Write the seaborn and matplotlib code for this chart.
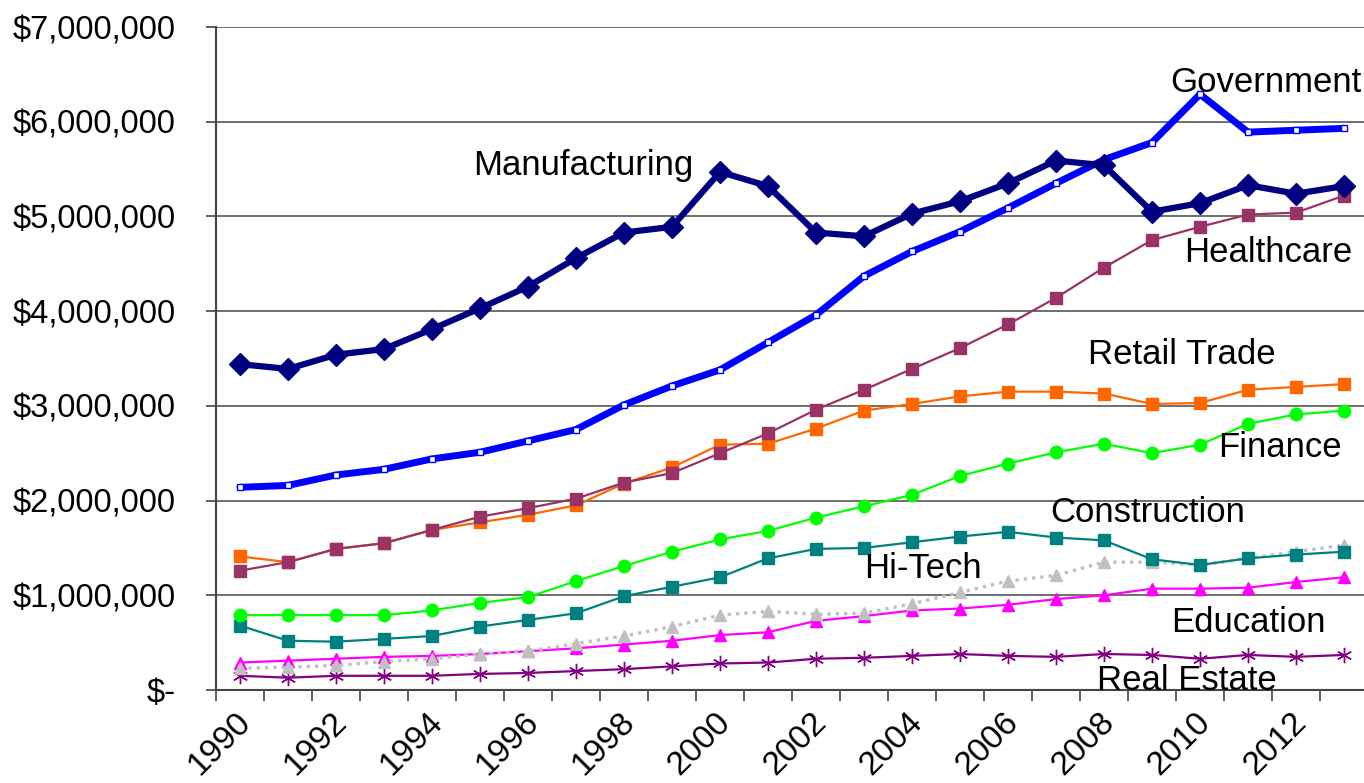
import numpy as np
import pandas as pd
import matplotlib
matplotlib.use("Agg")
import matplotlib.pyplot as plt
import seaborn as sns
from matplotlib.ticker import FuncFormatter
from matplotlib.transforms import ScaledTranslation

# Data (values in $ millions)
years = list(range(1990, 2014))

manufacturing = [3.44, 3.39, 3.54, 3.60, 3.81, 4.03, 4.26, 4.56, 4.83, 4.89, 5.47, 5.32,
                 4.83, 4.79, 5.03, 5.16, 5.35, 5.59, 5.54, 5.05, 5.14, 5.33, 5.24, 5.32]
government = [2.14, 2.16, 2.27, 2.33, 2.44, 2.51, 2.63, 2.75, 3.01, 3.21, 3.38, 3.67,
              3.96, 4.37, 4.63, 4.84, 5.09, 5.35, 5.60, 5.78, 6.29, 5.89, 5.91, 5.93]
healthcare = [1.26, 1.35, 1.49, 1.55, 1.69, 1.83, 1.92, 2.02, 2.19, 2.29, 2.50, 2.71,
              2.96, 3.17, 3.39, 3.61, 3.86, 4.14, 4.46, 4.75, 4.89, 5.02, 5.04, 5.22]
retail = [1.41, 1.35, 1.49, 1.55, 1.69, 1.77, 1.85, 1.95, 2.18, 2.35, 2.59, 2.60,
          2.76, 2.95, 3.02, 3.10, 3.15, 3.15, 3.13, 3.02, 3.03, 3.17, 3.20, 3.23]
finance = [0.79, 0.79, 0.79, 0.79, 0.84, 0.92, 0.98, 1.15, 1.31, 1.46, 1.59, 1.68,
           1.82, 1.94, 2.06, 2.26, 2.39, 2.51, 2.60, 2.50, 2.59, 2.81, 2.91, 2.95]
construction = [0.68, 0.52, 0.51, 0.54, 0.57, 0.67, 0.74, 0.81, 0.99, 1.09, 1.19, 1.39,
                1.49, 1.50, 1.56, 1.62, 1.67, 1.61, 1.58, 1.38, 1.32, 1.39, 1.43, 1.46]
hitech = [0.23, 0.24, 0.26, 0.30, 0.33, 0.38, 0.41, 0.49, 0.57, 0.67, 0.79, 0.83,
          0.80, 0.81, 0.91, 1.03, 1.15, 1.21, 1.35, 1.35, 1.32, 1.39, 1.46, 1.53]
education = [0.29, 0.31, 0.33, 0.35, 0.36, 0.38, 0.41, 0.44, 0.48, 0.52, 0.58, 0.61,
             0.73, 0.78, 0.84, 0.86, 0.90, 0.96, 1.00, 1.07, 1.07, 1.08, 1.14, 1.19]
real_estate = [0.15, 0.13, 0.15, 0.15, 0.15, 0.17, 0.18, 0.20, 0.22, 0.25, 0.28, 0.29,
               0.33, 0.34, 0.36, 0.38, 0.36, 0.35, 0.38, 0.37, 0.33, 0.37, 0.35, 0.37]

series = {
    "Real Estate": real_estate,
    "Education": education,
    "Hi-Tech": hitech,
    "Construction": construction,
    "Finance": finance,
    "Retail Trade": retail,
    "Healthcare": healthcare,
    "Government": government,
    "Manufacturing": manufacturing,
}

# color, marker, markersize, linewidth, linestyle, marker face
styles = {
    "Real Estate": ("#800080", (6, 2, 0), 11, 1.6, "-", "#800080"),
    "Education": ("#FF00FF", "^", 9, 1.6, "-", "#FF00FF"),
    "Hi-Tech": ("#C0C0C0", "^", 9, 2.4, (0, (1, 1.5)), "#C0C0C0"),
    "Construction": ("#008080", "s", 8, 1.6, "-", "#008080"),
    "Finance": ("#00FF00", "o", 9, 1.6, "-", "#00FF00"),
    "Retail Trade": ("#FF6600", "s", 8, 1.6, "-", "#FF6600"),
    "Healthcare": ("#993366", "s", 8, 1.6, "-", "#993366"),
    "Government": ("#0000FF", "s", 4, 5.0, "-", "white"),
    "Manufacturing": ("#000080", "D", 11, 4.5, "-", "#000080"),
}

# label centres in pixels
labels = {
    "Manufacturing": (583, 165),
    "Government": (1266, 82),
    "Healthcare": (1268, 252),
    "Retail Trade": (1182, 355),
    "Finance": (1280, 447),
    "Construction": (1148, 513),
    "Hi-Tech": (923, 568),
    "Education": (1248, 623),
    "Real Estate": (1187, 680),
}

sns.set_theme(style="white")
plt.rcParams["font.family"] = ["Liberation Sans", "DejaVu Sans"]

W, H = 1364, 783
fig = plt.figure(figsize=(W / 100, H / 100), dpi=100)
ax = fig.add_axes([216 / W, 1 - 690 / H, (1368 - 216) / W, (690 - 27) / H])

x = np.arange(len(years))
for name, vals in series.items():
    c, m, ms, lw, ls, fc = styles[name]
    df = pd.DataFrame({"x": x, "y": np.array(vals) * 1e6})
    sns.lineplot(data=df, x="x", y="y", ax=ax, color=c, linewidth=lw, linestyle=ls,
                 marker=m, markersize=ms, markerfacecolor=fc, markeredgecolor=c,
                 markeredgewidth=1.0, zorder=3)

ax.set_xlim(-0.5, len(years) - 0.5)
ax.set_ylim(0, 7e6)
ax.set_yticks(np.arange(0, 7.01e6, 1e6))
ax.yaxis.set_major_formatter(FuncFormatter(lambda v, p: "$-" if v == 0 else f"${v:,.0f}"))
ax.grid(axis="y", color="#555555", linewidth=1.2)
ax.set_axisbelow(True)

ax.set_xticks(x[::2])
ax.set_xticklabels([str(y) for y in years[::2]], rotation=45, ha="right",
                   rotation_mode="anchor")
ax.set_xticks(np.arange(-0.5, len(years), 1), minor=True)
ax.tick_params(axis="x", which="major", length=0, pad=12, labelsize=24,
               labelcolor="black")
ax.tick_params(axis="x", which="minor", length=8, width=1.2, color="#444444",
               direction="out", bottom=True)
ax.tick_params(axis="y", length=7, width=1.2, color="#444444", direction="out",
               left=True, labelsize=23.5, labelcolor="black", pad=22)
shift = ScaledTranslation(-5 / 100, 0, fig.dpi_scale_trans)
for lab in ax.get_xticklabels():
    lab.set_transform(lab.get_transform() + shift)
ax.set_xlabel("")
ax.set_ylabel("")

for side in ["top", "right"]:
    ax.spines[side].set_visible(False)
for side in ["left", "bottom"]:
    ax.spines[side].set_color("#444444")
    ax.spines[side].set_linewidth(1.5)

for name, (px, py) in labels.items():
    fig.text(px / W, 1 - py / H, name, fontsize=25, ha="center", va="center",
             color="black", zorder=5)

fig.savefig("out.png", dpi=100, facecolor="white")
